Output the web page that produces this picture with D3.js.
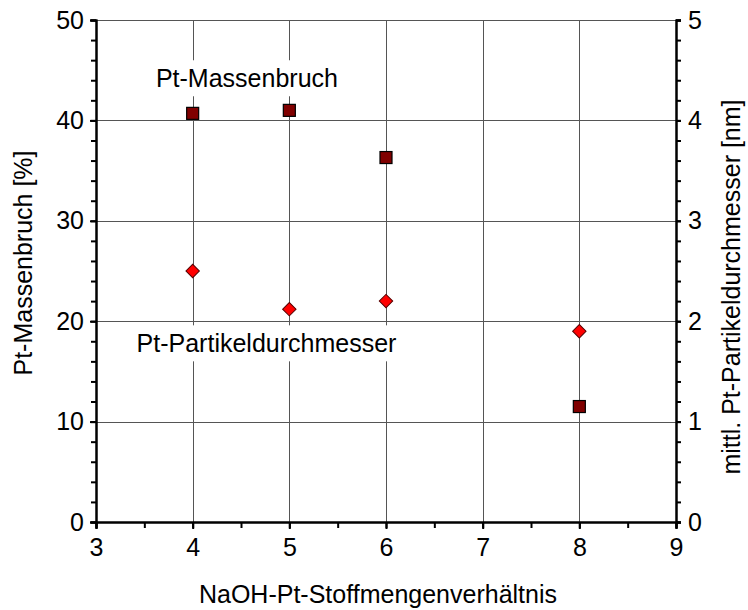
<!DOCTYPE html>
<html>
<head>
<meta charset="utf-8">
<script src="https://cdn.jsdelivr.net/npm/d3@7"></script>
<style>
  body { margin: 0; background: #fff; }
  svg { font-family: "Liberation Sans", Arial, sans-serif; }
</style>
</head>
<body>
<script>
// NaOH:Pt ratio on x, two series on two y axes
const ratios = [4, 5, 6, 8];
const massFraction = [40.7, 41.0, 36.3, 11.5];   // Pt-Massenbruch [%]
const particleSize = [2.50, 2.12, 2.20, 1.90];   // mittl. Pt-Partikeldurchmesser [nm]

const xTicks = [3, 4, 5, 6, 7, 8, 9];
const yLeftTicks = [0, 10, 20, 30, 40, 50];
const yRightTicks = [0, 1, 2, 3, 4, 5];

const width = 748, height = 610;
const margin = { top: 20, right: 72, bottom: 88, left: 96 };

const svg = d3.select("body").append("svg")
  .attr("width", width)
  .attr("height", height);

const x = d3.scaleLinear().domain([3, 9]).range([margin.left, width - margin.right]);
const yL = d3.scaleLinear().domain([0, 50]).range([height - margin.bottom, margin.top]);
const yR = d3.scaleLinear().domain([0, 5]).range([height - margin.bottom, margin.top]);

const x0 = x.range()[0], x1 = x.range()[1];
const yb = yL.range()[0], yt = yL.range()[1];

// gridlines
const grid = svg.append("g").attr("stroke", "#555").attr("stroke-width", 1);
grid.selectAll(".gh")
  .data(yLeftTicks.filter(d => d > 0))
  .join("line")
  .attr("x1", x0).attr("x2", x1)
  .attr("y1", d => Math.round(yL(d)) + 0.5)
  .attr("y2", d => Math.round(yL(d)) + 0.5);
grid.selectAll(".gv")
  .data(xTicks.filter(d => d > 3 && d < 9))
  .join("line")
  .attr("y1", yt).attr("y2", yb)
  .attr("x1", d => Math.round(x(d)) + 0.5)
  .attr("x2", d => Math.round(x(d)) + 0.5);

// annotation labels with white boxes hiding the grid behind them
const notes = [
  { text: "Pt-Massenbruch", x: 3.62, y: 43.3 },
  { text: "Pt-Partikeldurchmesser", x: 3.42, y: 16.9 }
];
const noteG = svg.append("g");
notes.forEach(n => {
  const g = noteG.append("g");
  const t = g.append("text")
    .attr("x", x(n.x)).attr("y", yL(n.y))
    .attr("font-size", 25)
    .attr("fill", "#000")
    .text(n.text);
  const b = t.node().getBBox();
  g.insert("rect", "text")
    .attr("x", b.x - 2).attr("y", b.y - 4)
    .attr("width", b.width + 4).attr("height", b.height + 8)
    .attr("fill", "#fff");
});

// axes
const axisStyle = g => {
  g.selectAll(".domain").attr("stroke", "#000").attr("stroke-width", 2);
  g.selectAll(".tick line").attr("stroke", "#000").attr("stroke-width", 2);
  g.selectAll(".tick text").attr("font-size", 25).attr("fill", "#000")
    .attr("font-family", "Liberation Sans, Arial, sans-serif");
};

// minor ticks first
svg.append("g")
  .attr("transform", `translate(${x0},0)`)
  .call(d3.axisLeft(yL).tickValues(d3.range(0, 51, 2)).tickSize(5).tickFormat(""))
  .call(axisStyle);
svg.append("g")
  .attr("transform", `translate(${x1},0)`)
  .call(d3.axisRight(yR).tickValues(d3.range(0, 5.01, 0.2)).tickSize(5).tickFormat(""))
  .call(axisStyle);
svg.append("g")
  .attr("transform", `translate(0,${yb})`)
  .call(d3.axisBottom(x).tickValues(d3.range(3, 9.01, 0.5)).tickSize(6).tickFormat(""))
  .call(axisStyle);

svg.append("g")
  .attr("transform", `translate(${x0},0)`)
  .call(d3.axisLeft(yL).tickValues(yLeftTicks).tickSize(6).tickPadding(6).tickFormat(d3.format("d")))
  .call(axisStyle);
svg.append("g")
  .attr("transform", `translate(${x1},0)`)
  .call(d3.axisRight(yR).tickValues(yRightTicks).tickSize(5).tickPadding(7).tickFormat(d3.format("d")))
  .call(axisStyle);
svg.append("g")
  .attr("transform", `translate(0,${yb})`)
  .call(d3.axisBottom(x).tickValues(xTicks).tickSize(7).tickPadding(9).tickFormat(d3.format("d")))
  .call(axisStyle);

// axis titles
svg.append("text")
  .attr("x", 378).attr("y", 603)
  .attr("text-anchor", "middle")
  .attr("font-size", 25)
  .text("NaOH-Pt-Stoffmengenverhältnis");
svg.append("text")
  .attr("transform", `translate(32,${(yt + yb) / 2 - 8}) rotate(-90)`)
  .attr("text-anchor", "middle")
  .attr("font-size", 25)
  .text("Pt-Massenbruch [%]");
svg.append("text")
  .attr("transform", `translate(740,${(yt + yb) / 2 + 16}) rotate(-90)`)
  .attr("text-anchor", "middle")
  .attr("font-size", 25)
  .text("mittl. Pt-Partikeldurchmesser [nm]");

// markers
svg.append("g").selectAll("path")
  .data(ratios.map((r, i) => [r, particleSize[i]]))
  .join("path")
  .attr("d", d3.symbol(d3.symbolSquare, 90))
  .attr("transform", d => `translate(${x(d[0])},${yR(d[1])}) rotate(45)`)
  .attr("fill", "#ff0000")
  .attr("stroke", "#500")
  .attr("stroke-width", 1);

svg.append("g").selectAll("rect")
  .data(ratios.map((r, i) => [r, massFraction[i]]))
  .join("rect")
  .attr("x", d => x(d[0]) - 6)
  .attr("y", d => yL(d[1]) - 6)
  .attr("width", 12).attr("height", 12)
  .attr("fill", "#800000")
  .attr("stroke", "#000")
  .attr("stroke-width", 1.2);
</script>
</body>
</html>
